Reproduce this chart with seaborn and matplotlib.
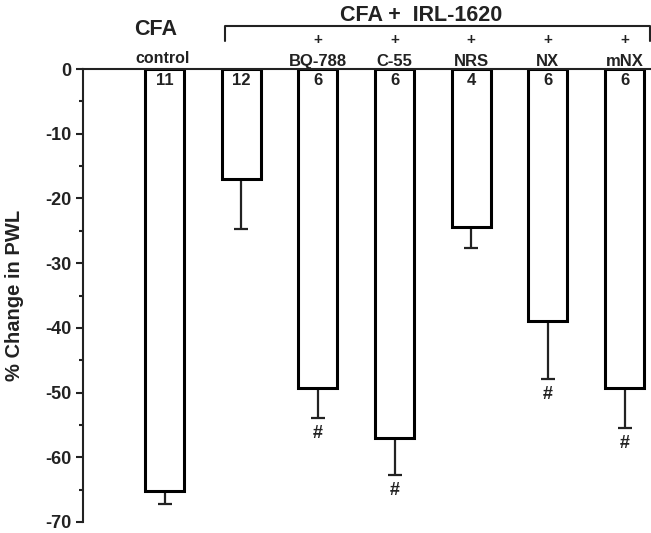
import numpy as np
import matplotlib
matplotlib.use('Agg')
import matplotlib.pyplot as plt
import seaborn as sns

sns.set_style('ticks')
plt.rcParams['font.family'] = ['Liberation Sans', 'DejaVu Sans']
plt.rcParams['font.weight'] = 'bold'
plt.rcParams['axes.unicode_minus'] = False

# data
groups = ['control', 'IRL', 'BQ-788', 'C-55', 'NRS', 'NX', 'mNX']
pwl = [-65.2, -17.0, -49.3, -57.0, -24.4, -38.9, -49.3]
sem = [2.0, 7.8, 4.7, 5.8, 3.3, 9.0, 6.2]
n_animals = ['11', '12', '6', '6', '4', '6', '6']
signif = ['', '', '#', '#', '', '#', '#']
drug_labels = ['', '', 'BQ-788', 'C-55', 'NRS', 'NX', 'mNX']

ink = '#222222'

fig = plt.figure(figsize=(6.51, 5.33), dpi=100)
ax = fig.add_axes([83 / 651, 11 / 533, 568 / 651, 453 / 533])

sns.barplot(x=groups, y=pwl, order=groups, color='white', edgecolor='black',
            linewidth=2.2, width=0.51, errorbar=None, ax=ax, zorder=2)

pos = np.arange(len(groups))
ax.errorbar(pos, pwl, yerr=[sem, np.zeros(len(sem))], fmt='none',
            ecolor=ink, elinewidth=1.6, capsize=5, capthick=1.6, zorder=1)

for i in range(len(groups)):
    ax.text(i, -1.85, n_animals[i], ha='center', va='center', fontsize=12,
            fontweight='bold', color=ink)
    if signif[i]:
        ax.text(i, pwl[i] - sem[i] - 2.4, signif[i], ha='center', va='center',
                fontsize=13, fontweight='bold', color=ink)
    if drug_labels[i]:
        ax.text(i, 0.5, drug_labels[i], ha='center', va='baseline', fontsize=12,
                fontweight='bold', color=ink, clip_on=False)
        ax.text(i, 4.5, '+', ha='center', va='center', fontsize=11,
                fontweight='bold', color=ink, clip_on=False)

# header labels
ax.text(-0.03, 0.9, 'control', ha='center', va='baseline', fontsize=11.5,
        fontweight='bold', color=ink, clip_on=False)
ax.text(-0.11, 5.25, 'CFA', ha='center', va='baseline', fontsize=15.5,
        fontweight='bold', color=ink, clip_on=False)
ax.text(3.35, 7.4, 'CFA +  IRL-1620', ha='center', va='baseline', fontsize=15.5,
        fontweight='bold', color=ink, clip_on=False)
ax.plot([0.79, 0.79, 6.33, 6.33], [4.3, 6.65, 6.65, 4.3], color=ink,
        lw=1.5, clip_on=False)

ax.set_xlim(-1.063, 6.345)
ax.set_ylim(-70, 0)
ax.set_yticks(np.arange(-70, 1, 10))
ax.set_yticks(np.arange(-65, 0, 10), minor=True)
ax.set_xticks([])
ax.set_xlabel('')
ax.set_ylabel('% Change in PWL', fontsize=14.5, fontweight='bold', color=ink)
ax.yaxis.set_label_coords(-0.104, 0.5)
ax.tick_params(axis='y', which='major', length=5, width=1.5, labelsize=13,
               colors=ink)
ax.tick_params(axis='y', which='minor', length=3, width=1.5, colors=ink)
for lab in ax.get_yticklabels():
    lab.set_fontweight('bold')

sns.despine(ax=ax, top=False, right=True, bottom=True)
ax.spines['top'].set_linewidth(1.5)
ax.spines['left'].set_linewidth(1.5)
ax.spines['top'].set_color(ink)
ax.spines['left'].set_color(ink)

fig.savefig('out.png', dpi=100)
